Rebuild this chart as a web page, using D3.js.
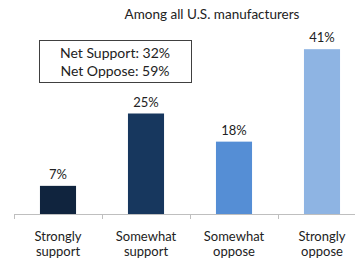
<!DOCTYPE html>
<html>
<head>
<meta charset="utf-8">
<script src="https://cdn.jsdelivr.net/npm/d3@7"></script>
<style>
  body { margin: 0; background: #fff; }
  text { font-family: Lato, "Open Sans", sans-serif; fill: #222; }
</style>
</head>
<body>
<div id="chart"></div>
<script>
var categories = ["Strongly support", "Somewhat support", "Somewhat oppose", "Strongly oppose"]
var values = [7, 25, 18, 41]
var colors = ["#10243e", "#17375e", "#558ed5", "#8eb4e3"]
var title = "Among all U.S. manufacturers"
var boxLines = ["Net Support: 32%", "Net Oppose: 59%"]

var width = 355, height = 258
var baseline = 214

var svg = d3.select("#chart").append("svg")
    .attr("width", width)
    .attr("height", height)

var x = d3.scaleBand()
    .domain(categories)
    .range([14, 366])
    .padding(0)

var y = d3.scaleLinear()
    .domain([0, 50])
    .range([baseline, 13])

var barW = x.bandwidth() * 0.41

// axis line + ticks at the category edges
svg.append("line")
    .attr("x1", 14).attr("x2", width)
    .attr("y1", baseline + 0.5).attr("y2", baseline + 0.5)
    .attr("stroke", "#bfbfbf")

var edges = categories.map(c => x(c))
svg.selectAll(".tick")
    .data(edges)
    .enter().append("line")
    .attr("x1", d => Math.round(d) + 0.5)
    .attr("x2", d => Math.round(d) + 0.5)
    .attr("y1", baseline)
    .attr("y2", baseline + 5)
    .attr("stroke", "#bfbfbf")

svg.selectAll(".bar")
    .data(values)
    .enter().append("rect")
    .attr("class", "bar")
    .attr("x", (d, i) => x(categories[i]) + x.bandwidth() / 2 - barW / 2)
    .attr("width", barW)
    .attr("y", d => y(d))
    .attr("height", d => baseline - y(d))
    .attr("fill", (d, i) => colors[i])

svg.selectAll(".val")
    .data(values)
    .enter().append("text")
    .attr("x", (d, i) => x(categories[i]) + x.bandwidth() / 2)
    .attr("y", d => y(d) - 7)
    .attr("text-anchor", "middle")
    .style("font-size", "13px")
    .text(d => d + "%")

var catLabels = svg.selectAll(".cat")
    .data(categories)
    .enter().append("text")
    .attr("text-anchor", "middle")
    .style("font-size", "13px")

catLabels.each(function(d) {
    var words = d.split(" ")
    var t = d3.select(this)
    var cx = x(d) + x.bandwidth() / 2
    words.forEach(function(w, j) {
        t.append("tspan")
            .attr("x", cx)
            .attr("y", 241 + j * 15)
            .text(w)
    })
})

svg.append("text")
    .attr("x", 212)
    .attr("y", 19)
    .attr("text-anchor", "middle")
    .style("font-size", "13.5px")
    .text(title)

svg.append("rect")
    .attr("x", 39.5).attr("y", 40.5)
    .attr("width", 152).attr("height", 42)
    .attr("fill", "none")
    .attr("stroke", "#404040")

svg.selectAll(".boxtext")
    .data(boxLines)
    .enter().append("text")
    .attr("x", 115)
    .attr("y", (d, i) => 58 + i * 18)
    .attr("text-anchor", "middle")
    .style("font-size", "14px")
    .text(d => d)
</script>
</body>
</html>
